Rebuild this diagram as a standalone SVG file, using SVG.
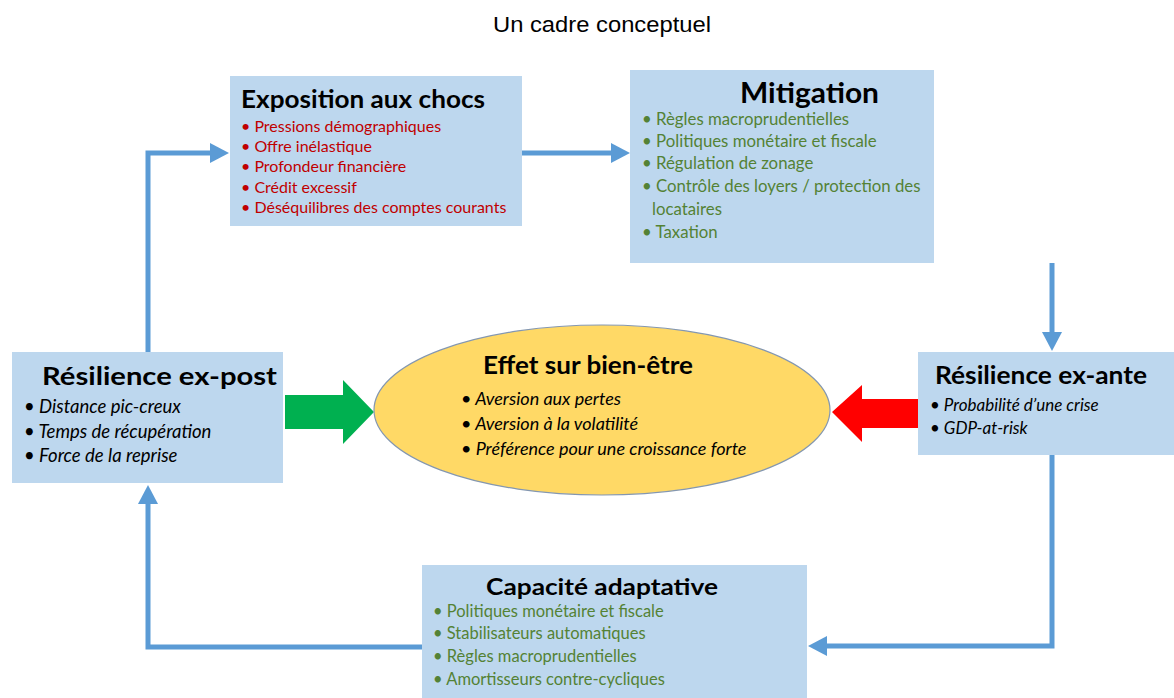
<svg xmlns="http://www.w3.org/2000/svg" width="1174" height="698" viewBox="0 0 1174 698">
<style>
.box{fill:#BDD7EE}
.ttl{font-family:Lato,"Liberation Sans",sans-serif;font-weight:bold;fill:#000}
.it{font-family:Lato,"Liberation Sans",sans-serif;font-size:15.5px}
.red{fill:#C00000}
.grn{fill:#548235}
.blk{fill:#000;font-style:italic}
.con{fill:none;stroke:#5B9BD5;stroke-width:5}
</style>
<defs>
<marker id="ah" markerUnits="userSpaceOnUse" viewBox="0 0 19 20" markerWidth="19" markerHeight="20" refX="1" refY="10" orient="auto">
<path d="M0,0 L19,10 L0,20 Z" fill="#5B9BD5"/>
</marker>
</defs>
<rect width="1174" height="698" fill="#fff"/>
<text x="602" y="32" text-anchor="middle" font-family="'Liberation Sans',Arial,sans-serif" font-size="22" fill="#000" textLength="218" lengthAdjust="spacingAndGlyphs">Un cadre conceptuel</text>

<g id="connectors">
<path class="con" d="M148,352 V153 H211" marker-end="url(#ah)"/>
<path class="con" d="M522,153 H612" marker-end="url(#ah)"/>
<path class="con" d="M1052,263 V333" marker-end="url(#ah)"/>
<path class="con" d="M1052,455 V646 H826" marker-end="url(#ah)"/>
<path class="con" d="M422,647 H148 V503" marker-end="url(#ah)"/>
<path d="M285,395 H343 V380 L374,412 L343,444 V429 H285 Z" fill="#00B050"/>
<path d="M918,399 H862 V385 L832,412 L862,442 V428 H918 Z" fill="#FF0000"/>
</g>

<g id="exposition">
<rect class="box" x="230" y="76" width="292" height="150"/>
<text class="ttl" x="241" y="108" font-size="25" textLength="244" lengthAdjust="spacingAndGlyphs">Exposition aux chocs</text>
<g class="it red" style="font-size:16px">
<text x="241" y="132">• Pressions démographiques</text>
<text x="241" y="152">• Offre inélastique</text>
<text x="241" y="172">• Profondeur financière</text>
<text x="241" y="193">• Crédit excessif</text>
<text x="241" y="213">• Déséquilibres des comptes courants</text>
</g>
</g>

<g id="mitigation">
<rect class="box" x="630" y="70" width="304" height="193"/>
<text class="ttl" x="740" y="103" font-size="28" textLength="139" lengthAdjust="spacingAndGlyphs">Mitigation</text>
<g class="it grn" style="font-size:16.8px">
<text x="642" y="125">• Règles macroprudentielles</text>
<text x="642" y="147">• Politiques monétaire et fiscale</text>
<text x="642" y="169">• Régulation de zonage</text>
<text x="642" y="192">• Contrôle des loyers / protection des</text>
<text x="652" y="215">locataires</text>
<text x="642" y="238">• Taxation</text>
</g>
</g>

<g id="expost">
<rect class="box" x="12" y="352" width="271" height="131"/>
<text class="ttl" x="42" y="385" font-size="24" textLength="235" lengthAdjust="spacingAndGlyphs">Résilience ex-post</text>
<g class="it blk" style="font-size:18.5px">
<text x="24" y="413">• Distance pic-creux</text>
<text x="24" y="438">• Temps de récupération</text>
<text x="24" y="462">• Force de la reprise</text>
</g>
</g>

<g id="exante">
<rect class="box" x="918" y="352" width="256" height="103"/>
<text class="ttl" x="935" y="384" font-size="24" textLength="212" lengthAdjust="spacingAndGlyphs">Résilience ex-ante</text>
<g class="it blk" style="font-size:17px">
<text x="930" y="411">• Probabilité d’une crise</text>
<text x="930" y="434">• GDP-at-risk</text>
</g>
</g>

<g id="effet">
<ellipse cx="602" cy="410" rx="228" ry="85" fill="#FFD966" stroke="#8497B0" stroke-width="1.2"/>
<text class="ttl" x="483" y="374" font-size="24" textLength="210" lengthAdjust="spacingAndGlyphs">Effet sur bien-être</text>
<g class="it blk" style="font-size:18px">
<text x="461" y="405">• Aversion aux pertes</text>
<text x="461" y="430">• Aversion à la volatilité</text>
<text x="461" y="455">• Préférence pour une croissance forte</text>
</g>
</g>

<g id="capacite">
<rect class="box" x="422" y="565" width="385" height="133"/>
<text class="ttl" x="486" y="595" font-size="23" textLength="232" lengthAdjust="spacingAndGlyphs">Capacité adaptative</text>
<g class="it grn" style="font-size:16.5px">
<text x="433" y="617">• Politiques monétaire et fiscale</text>
<text x="433" y="639">• Stabilisateurs automatiques</text>
<text x="433" y="662">• Règles macroprudentielles</text>
<text x="433" y="685">• Amortisseurs contre-cycliques</text>
</g>
</g>
</svg>
